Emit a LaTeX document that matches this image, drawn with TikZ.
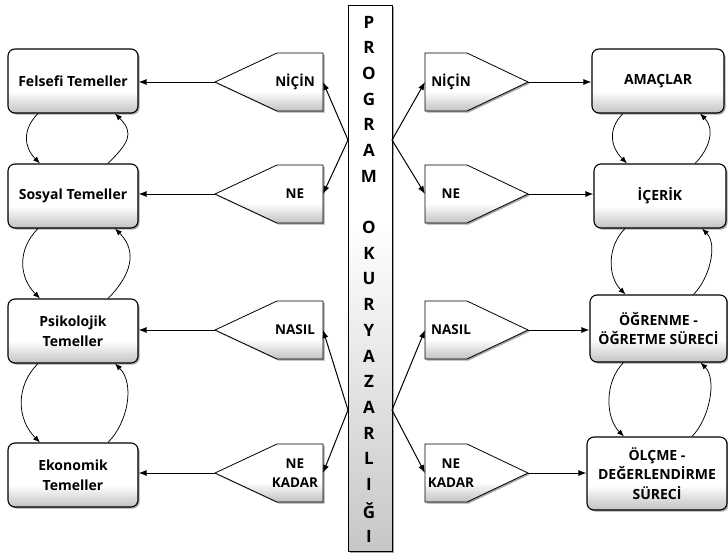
\documentclass[tikz,border=0pt]{standalone}
\usepackage{fontspec}
\setmainfont{Open Sans}
\usetikzlibrary{arrows.meta,shadows}
\pgfdeclareverticalshading{glossy}{100bp}{color(0bp)=(black!24); color(25bp)=(black!24); color(42bp)=(white); color(100bp)=(white)}
\pgfdeclareverticalshading{barfade}{100bp}{color(0bp)=(black!22); color(25bp)=(black!22); color(55bp)=(white); color(100bp)=(white)}
\tikzset{
	shade/.style={drop shadow={shadow xshift=1.6pt, shadow yshift=-1.6pt, opacity=0.7}},
	box/.style={draw=black, line width=1.1pt, rounded corners=7pt, shading=glossy, shade, align=center, font=\bfseries\fontsize{14}{19.5}\selectfont, minimum height=64pt, inner sep=1pt},
	pent/.style={draw=black, line width=0.8pt, shading=glossy, shade},
	penttext/.style={align=center, font=\bfseries\fontsize{13.5}{19}\selectfont, inner sep=0pt},
	barbox/.style={draw=black, line width=0.8pt, shading=barfade, shade, minimum width=44pt, minimum height=546pt},
	barletter/.style={font=\bfseries\fontsize{17}{17}\selectfont, inner sep=0pt},
	link/.style={line width=1pt, -{Latex[length=8pt,width=6pt]}},
	cycarrow/.style={line width=0.75pt, -{Latex[length=7pt,width=5.5pt]}},
}
% name, centre y, text
\def\leftpent#1#2#3{%
	\draw[pent] (215,#2) -- (277,#2-29) -- (323,#2-29) -- (323,#2+29) -- (277,#2+29) -- cycle;
	\coordinate (#1tip) at (215,#2);
	\coordinate (#1side) at (323,#2);
	\node[penttext] (#1) at (295,#2) {#3};
}
\def\rightpent#1#2#3{%
	\draw[pent] (425,#2-29) -- (467,#2-29) -- (528,#2) -- (467,#2+29) -- (425,#2+29) -- cycle;
	\coordinate (#1tip) at (528,#2);
	\coordinate (#1side) at (425,#2);
	\node[penttext] (#1) at (451,#2) {#3};
}
\begin{document}
\begin{tikzpicture}[x=1pt, y=-1pt]
		%%%%% START %%%%%
		\useasboundingbox (0,0) rectangle (728,554);
		
		\node[barbox] (bar) at (370,278) {};
		\foreach \ch [count=\i from 0] in {P,R,O,G,R,A,M}
			\node[barletter] (let\i) at (369,22+25.7*\i) {\ch};
		\foreach \ch [count=\i from 8] in {O,K,U,R,Y,A,Z,A,R,L,I,Ğ,I}
			\node[barletter] (let\i) at (369,22+25.7*\i) {\ch};
		
		\node[box, minimum width=130pt] (fel) at (73,81) {Felsefi Temeller};
		\node[box, minimum width=130pt] (sos) at (73,196) {Sosyal Temeller};
		\node[box, minimum width=130pt] (psi) at (73,331) {Psikolojik\\Temeller};
		\node[box, minimum width=130pt] (eko) at (73,475) {Ekonomik\\Temeller};
		
		\node[box, minimum width=132pt] (ama) at (658,81) {AMAÇLAR};
		\node[box, minimum width=132pt] (ice) at (660,196) {İÇERİK};
		\node[box, minimum width=137pt, minimum height=67pt] (ogr) at (658.5,328.5) {ÖĞRENME -\\ÖĞRETME SÜRECİ};
		\node[box, minimum width=140pt, minimum height=73pt] (olc) at (657,473.5) {ÖLÇME -\\DEĞERLENDİRME\\SÜRECİ};
		
		\leftpent{nicL}{82}{NİÇİN}
		\leftpent{neL}{194}{NE}
		\leftpent{nasL}{330}{NASIL}
		\leftpent{nkL}{473}{NE\\KADAR}
		\rightpent{nicR}{82}{NİÇİN}
		\rightpent{neR}{194}{NE}
		\rightpent{nasR}{330}{NASIL}
		\rightpent{nkR}{473}{NE\\KADAR}
		
		\coordinate (jl1) at (348,140);
		\coordinate (jl2) at (348,410);
		\coordinate (jr1) at (392,140);
		\coordinate (jr2) at (392,410);
		
		\foreach \j/\p in {jl1/nicL, jl1/neL, jl2/nasL, jl2/nkL, jr1/nicR, jr1/neR, jr2/nasR, jr2/nkR}
			\draw[link] (\j) -- (\p side);
		
		\draw[link] (nicLtip) -- (fel.east |- nicLtip);
		\draw[link] (neLtip) -- (sos.east |- neLtip);
		\draw[link] (nasLtip) -- (psi.east |- nasLtip);
		\draw[link] (nkLtip) -- (eko.east |- nkLtip);
		\draw[link] (nicRtip) -- (ama.west |- nicRtip);
		\draw[link] (neRtip) -- (ice.west |- neRtip);
		\draw[link] (nasRtip) -- (ogr.west |- nasRtip);
		\draw[link] (nkRtip) -- (olc.west |- nkRtip);
		
		\foreach \a/\b/\dl/\dr in {fel/sos/16/20, sos/psi/21/23, psi/eko/23/20, ama/ice/16/15, ice/ogr/18/16, ogr/olc/19/17} {
			\draw[cycarrow] ([xshift=-35pt]\a.south) .. controls +(-\dl,\dl) and +(-\dl,-\dl) .. ([xshift=-33pt]\b.north);
			\draw[cycarrow] ([xshift=35pt]\b.north) .. controls +(\dr,-\dr) and +(\dr,\dr) .. ([xshift=42pt]\a.south);
		}
		%%%%% END %%%%%
\end{tikzpicture}
\end{document}
